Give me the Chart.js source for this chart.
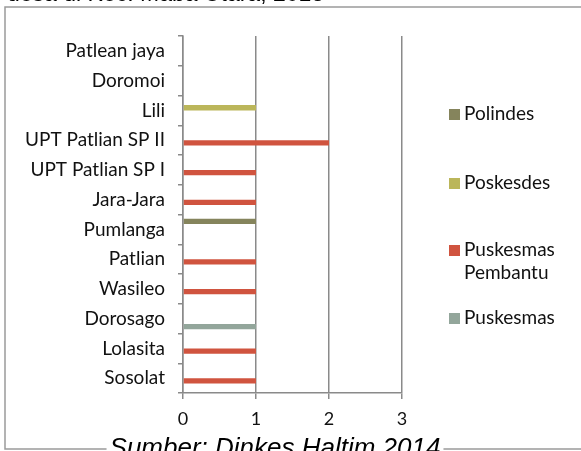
<!DOCTYPE html>
<html>
<head>
<meta charset="utf-8">
<script src="https://cdn.jsdelivr.net/npm/chart.js@4/dist/chart.umd.min.js"></script>
<style>
  html, body { margin: 0; padding: 0; background: #fff; }
  #wrap { position: relative; width: 581px; height: 451px; }
</style>
</head>
<body>
<div id="wrap"><canvas id="grafikFaskes" width="581" height="451"></canvas></div>
<script>
// desa, dari atas ke bawah
var desa = ['Patlean jaya', 'Doromoi', 'Lili', 'UPT Patlian SP II', 'UPT Patlian SP I', 'Jara-Jara',
            'Pumlanga', 'Patlian', 'Wasileo', 'Dorosago', 'Lolasita', 'Sosolat'];
var polindes    = [0, 0, 0, 0, 0, 0, 1, 0, 0, 0, 0, 0];
var poskesdes   = [0, 0, 1, 0, 0, 0, 0, 0, 0, 0, 0, 0];
var pustu       = [0, 0, 0, 2, 1, 1, 0, 1, 1, 0, 1, 1];
var puskesmas   = [0, 0, 0, 0, 0, 0, 0, 0, 0, 1, 0, 0];
var tickSumbuX  = [0, 1, 2, 3];

var abu = '#8a8a8a';
var huruf = 'Lato, "Open Sans", sans-serif';

// legenda, judul yang terpotong, sumber dan bingkai
var hiasan = {
    id: 'hiasan',
    beforeDraw: function (chart) {
        var ctx = chart.ctx;
        ctx.save();
        ctx.fillStyle = '#fff';
        ctx.fillRect(0, 0, 581, 451);
        ctx.strokeStyle = '#9a9a9a';
        ctx.lineWidth = 1.5;
        ctx.strokeRect(5, 7, 600, 442);
        ctx.restore();
    },
    afterDraw: function (chart) {
        var ctx = chart.ctx;
        ctx.save();
        // judul (sebagian keluar gambar)
        ctx.fillStyle = '#000';
        ctx.font = '23px "Liberation Sans", Arial, sans-serif';
        ctx.textBaseline = 'alphabetic';
        ctx.fillText('desa di Kec. Maba Utara, 2013', 7, 1);

        // legenda
        var posY = [114, 183, 250, 318];
        ctx.font = '19px ' + huruf;
        ctx.textBaseline = 'middle';
        chart.data.datasets.forEach(function (ds, i) {
            ctx.fillStyle = ds.backgroundColor;
            ctx.fillRect(449, posY[i] - 5, 11, 11);
            ctx.fillStyle = '#111';
            var baris = ds.label.split('\n');
            baris.forEach(function (b, j) {
                ctx.fillText(b, 464, posY[i] + j * 23);
            });
        });

        // sumber
        ctx.font = 'italic 26px "Liberation Sans", Arial, sans-serif';
        var teks = 'Sumber: Dinkes Haltim 2014';
        var w = ctx.measureText(teks).width;
        ctx.fillStyle = '#fff';
        ctx.fillRect(275 - w / 2 - 3, 435, w + 6, 16);
        ctx.fillStyle = '#000';
        ctx.textAlign = 'center';
        ctx.textBaseline = 'alphabetic';
        ctx.fillText(teks, 275, 456);
        ctx.restore();
    }
};

function buatDataset(label, data, warna) {
    return {
        label: label,
        data: data,
        backgroundColor: warna,
        borderWidth: 0,
        barPercentage: 1.0,
        categoryPercentage: 0.72
    };
}

var ctx = document.getElementById('grafikFaskes').getContext('2d');
var grafik = new Chart(ctx, {
    type: 'bar',
    data: {
        labels: desa,
        datasets: [
            buatDataset('Polindes', polindes, '#85845c'),
            buatDataset('Poskesdes', poskesdes, '#bbb65a'),
            buatDataset('Puskesmas\nPembantu', pustu, '#d0543f'),
            buatDataset('Puskesmas', puskesmas, '#93a69b')
        ]
    },
    options: {
        indexAxis: 'y',
        responsive: false,
        animation: false,
        layout: { padding: { left: 0, top: 36, right: 179, bottom: 0 } },
        plugins: {
            legend: { display: false },
            tooltip: { enabled: false }
        },
        scales: {
            x: {
                min: 0,
                max: 3,
                afterBuildTicks: function (s) {
                    s.ticks = tickSumbuX.map(function (v) { return { value: v }; });
                },
                afterFit: function (s) { s.height = 58; },
                grid: { color: abu, lineWidth: 1.5, tickLength: 6, drawTicks: true },
                border: { color: abu, width: 1.5 },
                ticks: { color: '#111', font: { family: huruf, size: 18 }, padding: 9 }
            },
            y: {
                afterFit: function (s) { s.width = 183; },
                grid: { offset: true, drawOnChartArea: false, color: abu, lineWidth: 1.5, tickLength: 5 },
                border: { color: abu, width: 1.5 },
                ticks: { color: '#111', font: { family: huruf, size: 19 }, padding: 13, autoSkip: false }
            }
        }
    },
    plugins: [hiasan]
});
</script>
</body>
</html>
